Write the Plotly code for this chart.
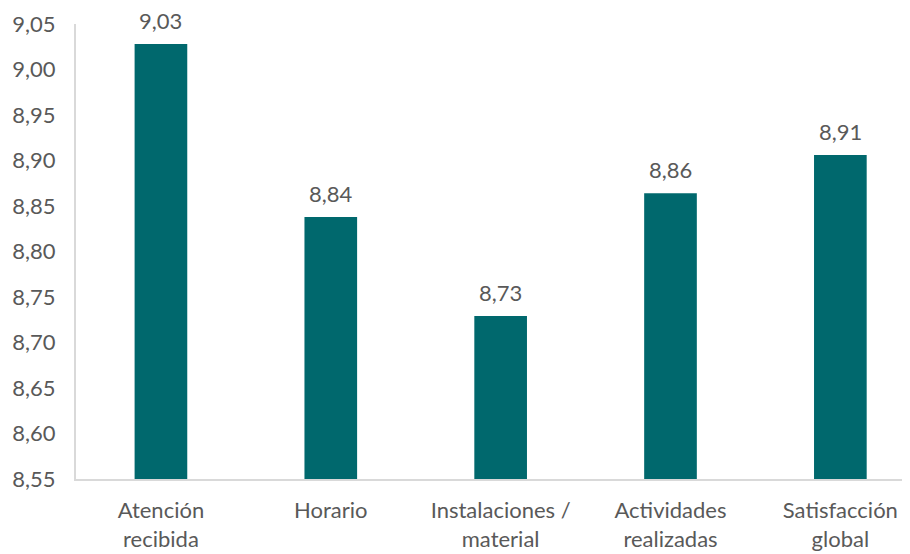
import plotly.graph_objects as go

categories = ["Atención<br>recibida", "Horario", "Instalaciones /<br>material",
              "Actividades<br>realizadas", "Satisfacción<br>global"]
values = [9.028, 8.838, 8.729, 8.864, 8.906]
y_ticks = [8.55, 8.60, 8.65, 8.70, 8.75, 8.80, 8.85, 8.90, 8.95, 9.00, 9.05]

bar_color = "#00686D"
text_color = "#595959"
font_family = "Lato, 'Open Sans', sans-serif"
fs = 22

fig = go.Figure()
fig.add_trace(go.Bar(
    x=list(range(len(categories))), y=[v - 8.55 for v in values],
    base=8.55,
    marker=dict(color=bar_color, line=dict(width=0)),
    width=0.31,
))

for i, v in enumerate(values):
    fig.add_annotation(x=i, y=v, text=f"{v:.2f}".replace(".", ","),
                       showarrow=False, yanchor="bottom", yshift=8,
                       font=dict(size=fs, color=text_color, family=font_family))

fig.update_layout(
    width=910, height=554,
    margin=dict(l=68, r=8, t=16, b=83),
    paper_bgcolor="white", plot_bgcolor="white",
    separators=",.",
    showlegend=False,
    font=dict(family=font_family, size=fs, color=text_color),
)
fig.update_xaxes(
    tickmode="array", tickvals=list(range(len(categories))), ticktext=categories,
    range=[-0.5, 4.41], showgrid=False, zeroline=False,
    showline=True, linecolor="#D9D9D9", linewidth=2,
    ticks="", tickfont=dict(size=fs, color=text_color), automargin=False,
    ticklabelstandoff=11,
)
fig.update_yaxes(
    range=[8.55, 9.05], tickmode="array", tickvals=y_ticks,
    ticktext=[f"{t:.2f}".replace(".", ",") for t in y_ticks],
    showgrid=False, zeroline=False,
    showline=True, linecolor="#D9D9D9", linewidth=2,
    ticks="", tickfont=dict(size=fs, color=text_color), automargin=False,
    ticklabelstandoff=14,
)
fig.write_html("out.html")
